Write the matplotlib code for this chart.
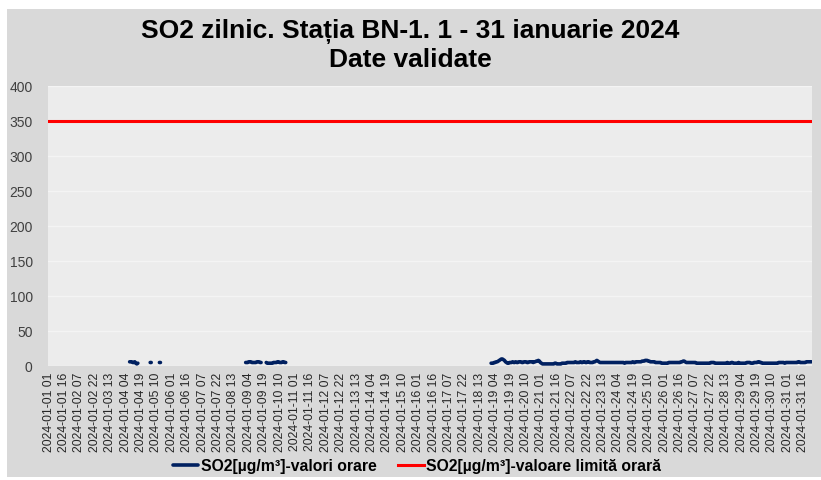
import numpy as np
import matplotlib
matplotlib.use("Agg")
import matplotlib.pyplot as plt
from matplotlib.patches import Rectangle

plt.rcParams['font.family'] = ['Liberation Sans', 'DejaVu Sans']

# hourly SO2 values per day (hours 01..24), None = no data
d04 = [None] * 7 + [6, 6, 6, 5, 5, 6, 4, 3, 4] + [None] * 8
d05 = [None] * 3 + [5, 5] + [None] * 7 + [5, 5] + [None] * 10
d09 = [5, 5, 5, 6, 6, 6, 5, 5, 5, 5, 5, 6, 6, 6, 5, 5, None, None, None, None, 5, 4, 4, 4]
d10 = [4, 4, 4, 5, 5, 5, 5, 6, 6, 5, 5, 5, 6, 6, 5, 5] + [None] * 8
d18 = [None] * 23 + [4]
d19 = [4, 4, 5, 5, 6, 6, 7, 8, 9, 10, 10, 9, 8, 6, 5, 4, 4, 5, 5, 5, 6, 5, 5, 6]
d20 = [5, 5, 6, 6, 6, 5, 5, 6, 6, 6, 5, 5, 6, 6, 6, 6, 5, 6, 6, 7, 7, 8, 7, 5]
d21 = [4, 3, 3, 3, 3, 3, 3, 3, 3, 3, 3, 3, 3, 4, 4, 3, 3, 3, 3, 3, 4, 4, 4, 4]
d22 = [4, 5, 5, 5, 5, 5, 5, 5, 5, 6, 5, 5, 5, 5, 6, 5, 5, 6, 6, 5, 5, 6, 6, 5]
d23 = [5, 5, 5, 6, 6, 7, 8, 7, 6, 5, 5, 5, 5, 5, 5, 5, 5, 5, 5, 5, 5, 5, 5, 5]
d24 = [5, 5, 5, 5, 5, 5, 5, 5, 5, 4, 5, 5, 5, 5, 5, 5, 5, 6, 5, 5, 6, 6, 6, 6]
d25 = [6, 6, 7, 7, 7, 8, 8, 8, 7, 7, 6, 6, 6, 6, 6, 5, 5, 5, 5, 5, 5, 4, 4, 4]
d26 = [4, 4, 4, 4, 5, 5, 5, 5, 5, 5, 5, 5, 5, 5, 5, 5, 6, 6, 7, 7, 6, 5, 5, 5]
d27 = [5, 5, 5, 5, 5, 5, 5, 4, 4, 4, 4, 4, 4, 4, 4, 4, 4, 4, 4, 4, 4, 5, 5, 5]
d28 = [5, 4, 4, 4, 4, 4, 4, 4, 4, 4, 4, 4, 4, 5, 4, 4, 4, 5, 5, 4, 4, 4, 4, 4]
d29 = [5, 4, 4, 4, 4, 4, 4, 4, 5, 5, 5, 5, 4, 4, 4, 5, 5, 5, 5, 6, 6, 5, 5, 4]
d30 = [4, 4, 4, 4, 4, 4, 4, 4, 4, 4, 4, 4, 4, 4, 4, 5, 5, 5, 5, 5, 5, 4, 5, 5]
d31 = [5, 5, 5, 5, 5, 5, 5, 5, 5, 5, 6, 6, 5, 5, 5, 5, 5, 5, 6, 6, 6, 6, 6, 6]

days_with_data = {4: d04, 5: d05, 9: d09, 10: d10, 18: d18, 19: d19, 20: d20,
                  21: d21, 22: d22, 23: d23, 24: d24, 25: d25, 26: d26,
                  27: d27, 28: d28, 29: d29, 30: d30, 31: d31}

limit_value = 350

so2 = []
for day in range(1, 32):
    vals = days_with_data.get(day, [None] * 24)
    so2 += [np.nan if v is None else v for v in vals]
so2 = np.array(so2, dtype=float)

# tick labels: hours 01..24 convention
labels = []
for day in range(1, 32):
    for hour in range(1, 25):
        labels.append(f"2024-01-{day:02d} {hour:02d}")

x = np.arange(len(so2))

fig = plt.figure(figsize=(8.21, 4.81), dpi=100)
fig.patch.set_facecolor('white')
fig.patches.append(Rectangle((7 / 821, 3 / 481), 814 / 821, 468 / 481,
                             transform=fig.transFigure, facecolor='#d9d9d9',
                             edgecolor='none', zorder=-10))

ax = fig.add_axes([48 / 821, (481 - 367) / 481, 764 / 821, 280 / 481])
ax.set_facecolor('#ececec')

ax.plot(x, so2, color='#002060', linewidth=2.6, solid_capstyle='round',
        label='SO2[µg/m³]-valori orare', zorder=3)
ax.plot(x, np.full(len(x), limit_value), color='#ff0000', linewidth=2.2,
        label='SO2[µg/m³]-valoare limită orară', zorder=3)

ax.set_xlim(-0.5, len(x) - 0.5)
ax.set_ylim(0, 400)
ax.set_yticks(np.arange(0, 401, 50))
ax.yaxis.grid(True, color='#f4f4f4', linewidth=1)
ax.set_axisbelow(True)
tick_idx = x[::15]
ax.set_xticks(tick_idx)
ax.set_xticklabels([labels[i] for i in tick_idx], rotation=90, fontsize=8.8,
                   color='#262626')
ax.tick_params(axis='x', length=0, pad=4)
ax.tick_params(axis='y', length=0, pad=11, labelsize=10, labelcolor='#404040')
for s in ax.spines.values():
    s.set_visible(False)

fig.suptitle('SO2 zilnic. Stația BN-1. 1 - 31 ianuarie 2024\nDate validate',
             fontsize=19, fontweight='bold', y=0.96, linespacing=1.2)

fig.legend(loc='center', bbox_to_anchor=(0.508, 0.03), ncol=2, frameon=False,
           prop={'weight': 'bold', 'size': 11.3}, handlelength=1.6,
           handletextpad=0.15, columnspacing=1.4)

fig.savefig('out.png', dpi=100, facecolor=fig.get_facecolor())
